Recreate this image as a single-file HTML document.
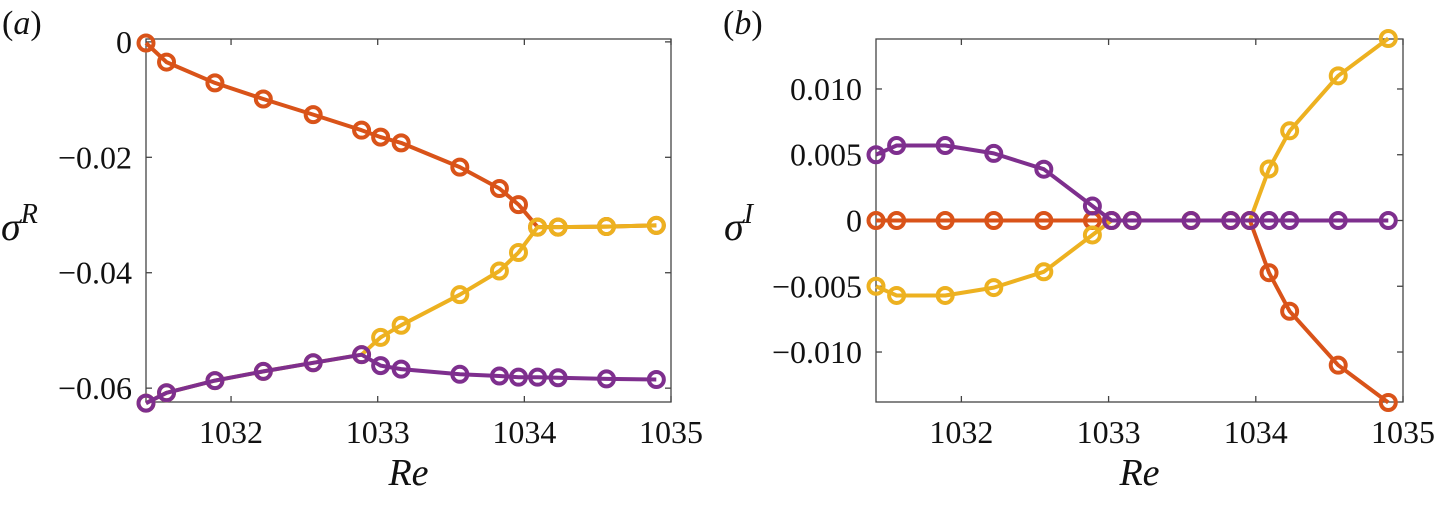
<!DOCTYPE html>
<html><head><meta charset="utf-8"><style>
body{margin:0;background:#fff;}
svg text{font-family:"Liberation Serif",serif;}
</style></head><body>
<svg id="fig" width="1436" height="505" viewBox="0 0 1436 505"></svg>
<script>
const reVals = [1031.42,1031.56,1031.89,1032.22,1032.56,1032.89,1033.02,1033.16,1033.56,1033.83,1033.96,1034.09,1034.23,1034.56,1034.90];
const aOrange = [-0.0002,-0.0035,-0.0071,-0.0099,-0.0126,-0.0153,-0.0165,-0.0175,-0.0217,-0.0254,-0.0282,-0.0321,-0.0321,-0.0320,-0.0318];
const aYellow = [-0.0626,-0.0608,-0.0587,-0.0571,-0.0556,-0.0542,-0.0512,-0.0491,-0.0438,-0.0397,-0.0365,-0.0321,-0.0321,-0.0320,-0.0318];
const aPurple = [-0.0626,-0.0608,-0.0587,-0.0571,-0.0556,-0.0542,-0.0561,-0.0567,-0.0576,-0.0579,-0.0581,-0.0581,-0.0582,-0.0584,-0.0585];
const bOrange = [0,0,0,0,0,0,0,0,0,0,0,-0.00397,-0.0069,-0.0110,-0.01384];
const bYellow = [-0.0050,-0.0057,-0.0057,-0.0051,-0.0039,-0.0011,0,0,0,0,0,0.00392,0.00682,0.0110,0.01384];
const bPurple = [0.0050,0.0057,0.0057,0.0051,0.0039,0.0011,0,0,0,0,0,0,0,0,0];
const xTicks = [1032,1033,1034,1035];
const aTicks = [0,-0.02,-0.04,-0.06];
const aTickLabels = ["0","\u22120.02","\u22120.04","\u22120.06"];
const bTicks = [0.01,0.005,0,-0.005,-0.01];
const bTickLabels = ["0.010","0.005","0","\u22120.005","\u22120.010"];
const COLORS = {orange:"#D95319",yellow:"#EDB120",purple:"#7E2F8E"};

const NS="http://www.w3.org/2000/svg";
const svg=document.getElementById('fig');
function mk(tag,attrs,parent){const e=document.createElementNS(NS,tag);for(const k in attrs)e.setAttribute(k,attrs[k]);(parent||svg).appendChild(e);return e;}

function panel(p){
  const g=mk('g',{});
  
  
  const X=v=>p.x0+(v-p.xmin)/(p.xmax-p.xmin)*(p.x1-p.x0);
  const Y=v=>p.y1-(v-p.ymin)/(p.ymax-p.ymin)*(p.y1-p.y0);
  const box=mk('rect',{x:p.x0,y:p.y0,width:p.x1-p.x0,height:p.y1-p.y0,fill:'none',stroke:'#444','stroke-width':1.3},g);
  
  
  xTicks.forEach(t=>{
    const x=X(t);
    mk('line',{x1:x,x2:x,y1:p.y1,y2:p.y1-6,stroke:'#444','stroke-width':1.3},g);
    mk('line',{x1:x,x2:x,y1:p.y0,y2:p.y0+6,stroke:'#444','stroke-width':1.3},g);
    const tx=mk('text',{x:x,y:p.y1+41,'font-size':32,'text-anchor':'middle',fill:'#111'},g);
    tx.textContent=t;
    
    
  });
  p.yt.forEach((t,i)=>{
    const y=Y(t);
    mk('line',{x1:p.x0,x2:p.x0+6,y1:y,y2:y,stroke:'#444','stroke-width':1.3},g);
    mk('line',{x1:p.x1,x2:p.x1-6,y1:y,y2:y,stroke:'#444','stroke-width':1.3},g);
    const ty=mk('text',{x:p.x0-14,y:y+11,'font-size':32,'text-anchor':'end',fill:'#111'},g);
    ty.textContent=p.yl[i];
    
    
  });
  p.series.forEach(s=>{
    const d=reVals.map((r,i)=>(i?'L':'M')+X(r).toFixed(1)+','+Y(s.v[i]).toFixed(1)).join(' ');
    const path=mk('path',{d:d,fill:'none',stroke:s.c,'stroke-width':4,'stroke-linejoin':'round'},g);
    
    
    reVals.forEach((r,i)=>{
      const c=mk('circle',{cx:X(r),cy:Y(s.v[i]),r:7.5,fill:'none',stroke:s.c,'stroke-width':4},g);
      
      
    });
  });
  const xl=mk('text',{x:(p.x0+p.x1)/2,y:485,'font-size':38,'font-style':'italic','text-anchor':'middle',fill:'#111'},g);
  xl.textContent='Re';
  
  
  const pl=mk('text',{x:p.lx,y:34,'font-size':34,fill:'#111'},g);
  pl.innerHTML='(<tspan font-style="italic">'+p.letter+'</tspan>)';
  
  
  const yl=mk('text',{x:p.sx,y:240,'font-size':40,'font-style':'italic',fill:'#111'},g);
  yl.innerHTML='\u03C3<tspan dy="-17" font-size="28">'+p.sup+'</tspan>';
  
  
}
panel({name:'panel-a',x0:146,x1:671,y0:39,y1:402,xmin:1031.42,xmax:1035,ymin:-0.0624,ymax:0.0005,
  yt:aTicks,yl:aTickLabels,letter:'a',sup:'R',lx:2,sx:1,
  series:[{n:'orange',c:COLORS.orange,v:aOrange},{n:'yellow',c:COLORS.yellow,v:aYellow},{n:'purple',c:COLORS.purple,v:aPurple}]});
panel({name:'panel-b',x0:876,x1:1403,y0:39,y1:402,xmin:1031.42,xmax:1035,ymin:-0.0138,ymax:0.0138,
  yt:bTicks,yl:bTickLabels,letter:'b',sup:'I',lx:723,sx:724,
  series:[{n:'orange',c:COLORS.orange,v:bOrange},{n:'yellow',c:COLORS.yellow,v:bYellow},{n:'purple',c:COLORS.purple,v:bPurple}]});
</script>
</body></html>
